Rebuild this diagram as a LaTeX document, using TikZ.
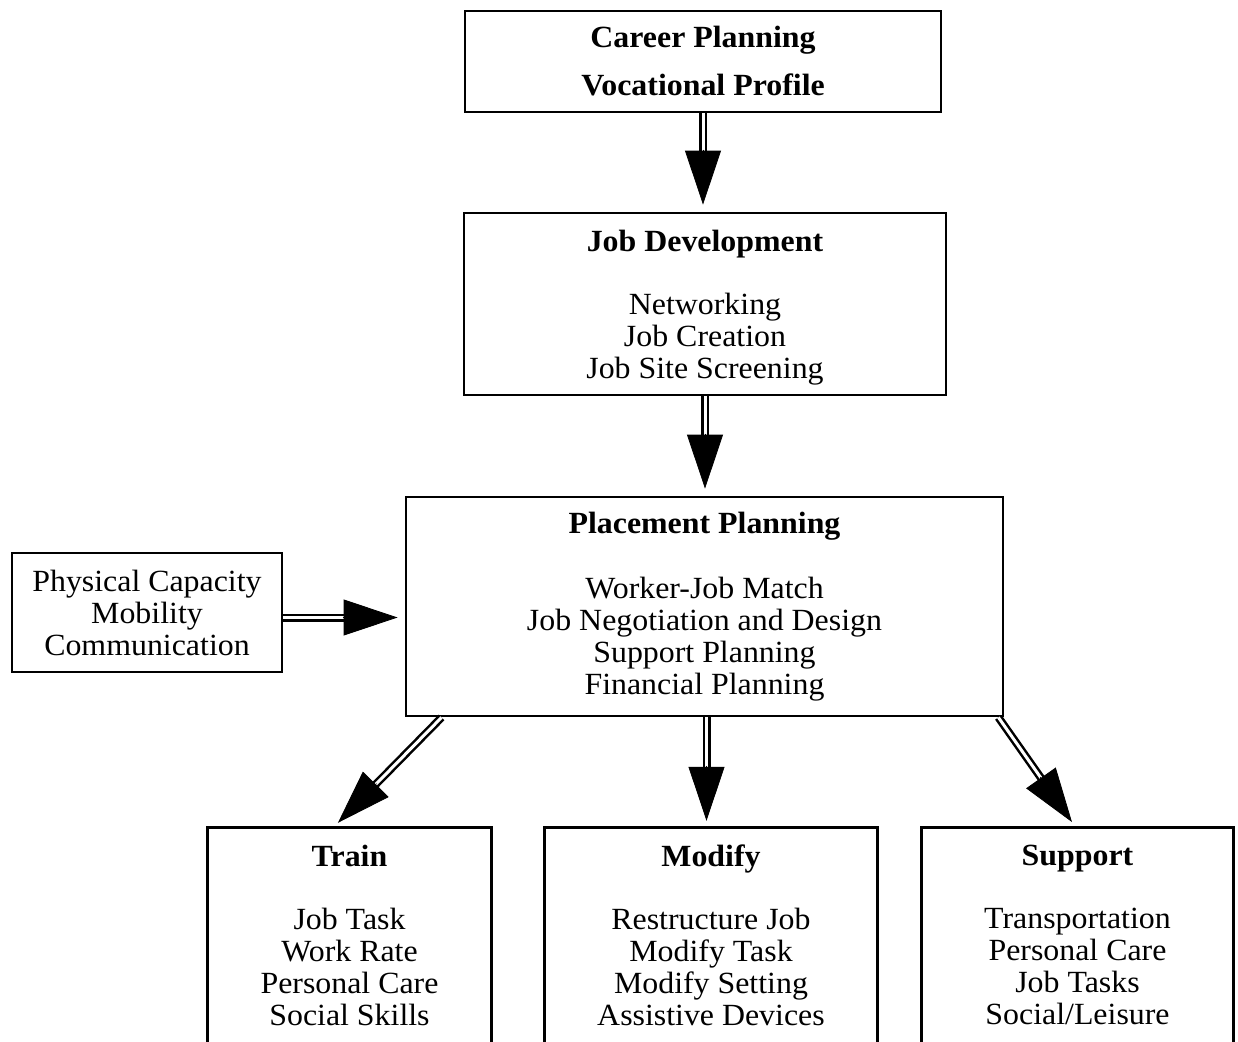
\documentclass[tikz,border=0pt]{standalone}
\usepackage{fontspec}
\setmainfont{Liberation Serif}[FakeStretch=1.035]
\usetikzlibrary{arrows.meta,calc}
\tikzset{
  box/.style={draw, line width=2.8pt, align=center, inner sep=0pt,
    font=\fontsize{30.8}{32}\selectfont},
  openbox/.style={draw=none, align=center, inner sep=0pt,
    font=\fontsize{30.8}{32}\selectfont},
  openedge/.style={line width=2.8pt},
  shaft/.style={draw, line width=2.5pt, double=white, double distance=3pt},
  headtip/.style={line width=0.8pt, -{Triangle[length=54pt,width=36pt]}}
}
\newcommand\dblarrow[2]{%
  \draw[shaft] (#1) -- ($(#2)!50pt!(#1)$);
  \draw[headtip] ($(#2)!62pt!(#1)$) -- ($(#2)!7pt!(#1)$);
}
\begin{document}
\begin{tikzpicture}[x=1pt,y=-1pt]
\useasboundingbox[fill=white] (0,0) rectangle (1238,1041);

\node[box, minimum width=476pt, minimum height=101pt] (career) at (703,61.5)
  {\bfseries Career Planning\\[16pt]\bfseries Vocational Profile};
\node[box, minimum width=482pt, minimum height=182pt] (jobdev) at (705,304)
  {\rule{0pt}{29pt}\bfseries Job Development\\[31pt]Networking\\Job Creation\\Job Site Screening};
\node[box, minimum width=597pt, minimum height=219pt] (placement) at (704.5,606.5)
  {\bfseries Placement Planning\\[33pt]Worker-Job Match\\Job Negotiation and Design\\Support Planning\\Financial Planning};
\node[box, minimum width=270pt, minimum height=119pt] (capacity) at (147,612.5)
  {Physical Capacity\\Mobility\\Communication};

\node[openbox, minimum width=283pt, minimum height=214pt] (train) at (349.5,935)
  {\bfseries Train\\[31pt]Job Task\\Work Rate\\Personal Care\\Social Skills};
\node[openbox, minimum width=332pt, minimum height=214pt] (modify) at (711,935)
  {\bfseries Modify\\[31pt]Restructure Job\\Modify Task\\Modify Setting\\Assistive Devices};
\node[openbox, minimum width=311pt, minimum height=214pt] (support) at (1077.5,935)
  {\bfseries Support\\[31pt]Transportation\\Personal Care\\Job Tasks\\Social/Leisure};
\foreach \b in {train,modify,support}
  \draw[openedge] (\b.south west) -- (\b.north west) -- (\b.north east) -- (\b.south east);

\coordinate (a1s) at (career.south);
\coordinate (a1e) at (career.south |- jobdev.north);
\coordinate (a2s) at (jobdev.south);
\coordinate (a2e) at (jobdev.south |- placement.north);
\coordinate (a3s) at ($(capacity.east)+(0,5)$);
\coordinate (a3e) at (a3s -| placement.west);
\coordinate (a4s) at ($(placement.south)+(2,0)$);
\coordinate (a4e) at (a4s |- modify.north);
\coordinate (a5s) at ($(placement.south west)+(37,0)$);
\coordinate (a5e) at ($(train.north)+(-16.5,0)$);
\coordinate (a6s) at ($(placement.south east)+(-6,0)$);
\coordinate (a6e) at ($(support.north)+(-1.5,0)$);

\dblarrow{a1s}{a1e}
\dblarrow{a2s}{a2e}
\dblarrow{a3s}{a3e}
\dblarrow{a4s}{a4e}
\dblarrow{a5s}{a5e}
\dblarrow{a6s}{a6e}
\end{tikzpicture}
\end{document}
